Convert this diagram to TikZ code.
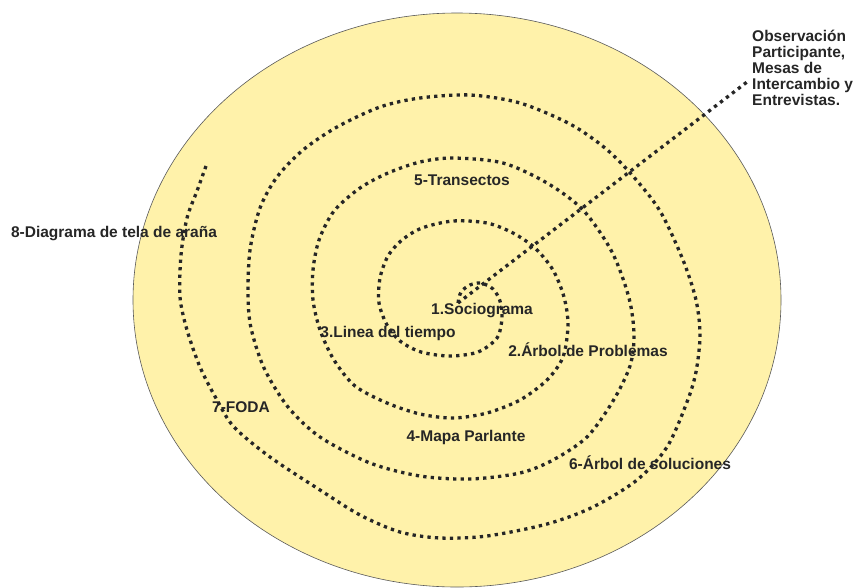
\documentclass[tikz,border=0pt]{standalone}
\usepackage{fontspec}
\setmainfont{Liberation Sans}
\usetikzlibrary{calc}
\definecolor{paleyellow}{RGB}{255,242,170}
\definecolor{inkgray}{RGB}{38,38,38}

\begin{document}
\begin{tikzpicture}[x=1pt,y=-1pt,
	dotline/.style={line width=3.3pt,dash pattern=on 3.3pt off 4.2pt,draw=inkgray},
	lbl/.style={inner sep=0pt,font=\fontsize{15.5}{16}\selectfont\bfseries,text=inkgray}]
	%FRAME
	\fill[white] (0,0) rectangle (858,587);
	\useasboundingbox (0,0) rectangle (858,587);
	
	%DISC
	\filldraw[fill=paleyellow,draw=black!65,semithick] (457,300) ellipse [x radius=324,y radius=287];
	
	%LABELS
	\node[lbl] (socio) at (482,311) {1.Sociograma};
	\node[lbl] (arbolp) at (588,350) {2.Árbol de Problemas};
	\node[lbl] (linea) at (388,333) {3.Linea del tiempo};
	\node[lbl] (mapa) at (466,437) {4-Mapa Parlante};
	\node[lbl] (trans) at (462,180) {5-Transectos};
	\node[lbl] (arbols) at (650,463) {6-Árbol de soluciones};
	\node[lbl] (foda) at (241,407) {7-FODA};
	\node[lbl] (arana) at (114,234) {8-Diagrama de tela de araña};
	\node[lbl,align=left,anchor=north west] (obs) at (752,30) {%
		Observación\\
		Participante,\\
		Mesas de\\
		Intercambio y\\
		Entrevistas.};
	
	%SPIRAL
	\coordinate (ctr) at (458,303);
	\coordinate (tip) at (747,82);
	\draw[dotline] plot[smooth] coordinates {(ctr)
		(461,292) (470,285) (481,283) (493,289) (500,301) (502,318)
		(497,338) (478,352) (450,356) (421,352) (400,341) (387,325) (379,303)
		(380,278) (388,256) (402,240) (422,228) (453,221) (487,223) (513,233) (535,248) (553,270) (564,297) (568,325)
		(563,357) (547,380) (520,400) (487,413) (453,418) (420,414) (387,403) (355,386) (334,360) (320,330) (313,300)
		(313,270) (319,240) (334,211) (360,188) (388,173) (420,162) (453,158) (503,163) (547,183) (583,210) (612,252) (629,298) (634,335)
		(630,366) (613,401) (587,437) (553,460) (520,473) (470,479) (420,476) (370,463) (320,437) (288,407) (264,368) (251,328) (248,295)
		(250,250) (260,208) (277,177) (303,150) (337,127) (380,107) (420,98) (470,95) (520,103) (570,124) (605,148) (632,175) (660,211) (683,260) (696,300) (700,335)
		(696,372) (687,402) (667,447) (637,480) (593,507) (547,524) (487,536) (440,538) (400,532) (360,515) (320,490) (270,457) (234,427) (217,400) (200,367) (187,330) (180,297)
		(181,255) (187,218) (197,191) (206,166)};
	
	%RAY
	\draw[dotline] (ctr)--(tip);
\end{tikzpicture}
\end{document}
